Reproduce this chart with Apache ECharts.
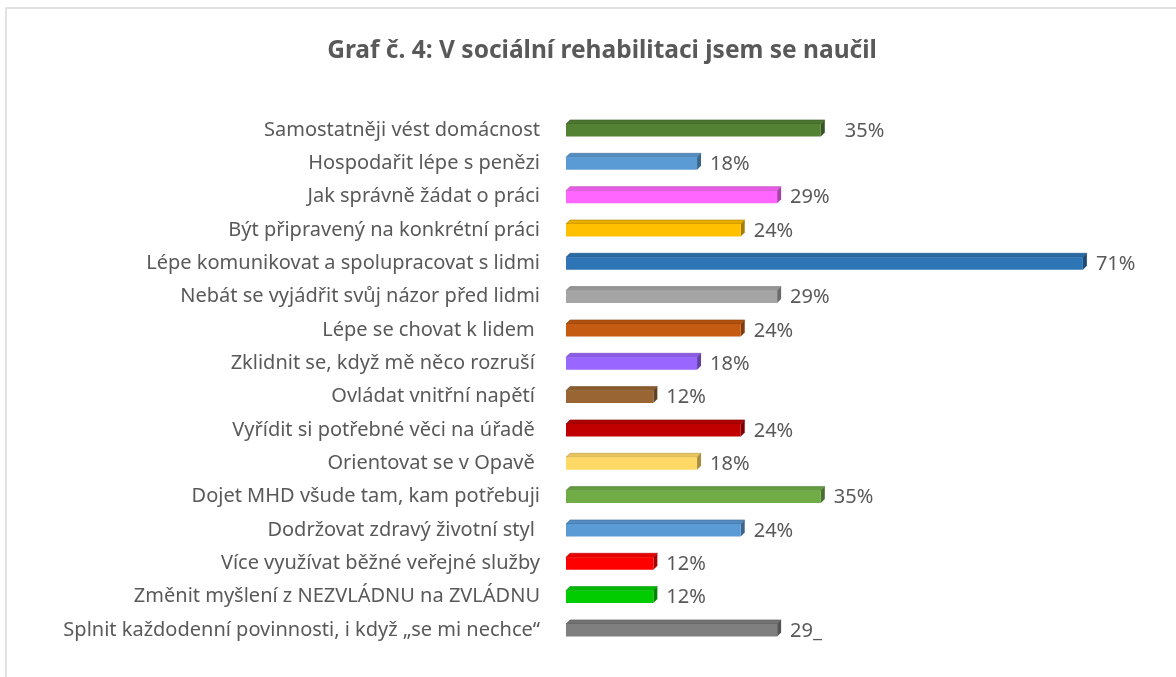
<!DOCTYPE html>
<html style="height: 100%">
<head>
    <meta charset="utf-8">
    <script src="https://cdn.jsdelivr.net/npm/echarts@6/dist/echarts.min.js"></script>
</head>
<body style="height: 100%; margin: 0; background: #fff;">
<div id="container" style="width: 1176px; height: 677px;"></div>
<script type="text/javascript">
    // data
    var categories = [
        'Samostatněji vést domácnost',
        'Hospodařit lépe s penězi',
        'Jak správně žádat o práci',
        'Být připravený na konkrétní práci',
        'Lépe komunikovat a spolupracovat s lidmi',
        'Nebát se vyjádřit svůj názor před lidmi',
        'Lépe se chovat k lidem ',
        'Zklidnit se, když mě něco rozruší ',
        'Ovládat vnitřní napětí ',
        'Vyřídit si potřebné věci na úřadě ',
        'Orientovat se v Opavě ',
        'Dojet MHD všude tam, kam potřebuji',
        'Dodržovat zdravý životní styl ',
        'Více využívat běžné veřejné služby',
        'Změnit myšlení z NEZVLÁDNU na ZVLÁDNU',
        'Splnit každodenní povinnosti, i když „se mi nechce“'
    ];
    var values = [35, 18, 29, 24, 71, 29, 24, 18, 12, 24, 18, 35, 24, 12, 12, 29];
    var valueLabels = ['35%', '18%', '29%', '24%', '71%', '29%', '24%', '18%', '12%', '24%', '18%', '35%', '24%', '12%', '12%', '29_'];
    var colors = ['#548235', '#5b9bd5', '#ff66ff', '#ffc000', '#2e75b6', '#a5a5a5', '#c55a11', '#9966ff',
                  '#996633', '#c00000', '#ffd966', '#70ad47', '#5b9bd5', '#ff0000', '#00cc00', '#7f7f7f'];

    // ztmavit barvu (k = 0..1)
    function shade(hex, k) {
        var n = parseInt(hex.slice(1), 16);
        var r = Math.round(((n >> 16) & 255) * (1 - k));
        var g = Math.round(((n >> 8) & 255) * (1 - k));
        var b = Math.round((n & 255) * (1 - k));
        return 'rgb(' + r + ',' + g + ',' + b + ')';
    }

    var chart = echarts.init(document.getElementById('container'));

    function renderBar(params, api) {
        var i = api.value(0);
        var v = api.value(1);
        var p0 = api.coord([0, i]);
        var p1 = api.coord([v, i]);
        var x0 = p0[0], x1 = p1[0], c = p0[1];
        var d = 4;
        var top = c - 6, bot = c + 6.5;
        var col = colors[params.dataIndex];
        var gap = params.dataIndex === 0 ? 20 : 9;
        return {
            type: 'group',
            children: [
                {
                    type: 'polygon',
                    shape: {points: [[x0, top], [x1, top], [x1 + d, top - d], [x0 + d, top - d]]},
                    style: {fill: shade(col, 0.1), stroke: shade(col, 0.3), lineWidth: 0.6}
                },
                {
                    type: 'polygon',
                    shape: {points: [[x1, top], [x1 + d, top - d], [x1 + d, bot - d], [x1, bot]]},
                    style: {fill: shade(col, 0.35)}
                },
                {
                    type: 'rect',
                    shape: {x: x0, y: top, width: x1 - x0, height: bot - top},
                    style: {fill: col}
                },
                {
                    type: 'text',
                    style: {
                        x: x1 + d + gap, y: c + 1,
                        text: valueLabels[params.dataIndex],
                        fill: '#595959',
                        font: '20px "Noto Sans"',
                        verticalAlign: 'middle'
                    }
                }
            ]
        };
    }

    var option = {
        animation: false,
        title: {
            text: 'Graf č. 4: V sociální rehabilitaci jsem se naučil',
            left: 597,
            textAlign: 'center',
            top: 34,
            textStyle: {
                fontFamily: 'Noto Sans',
                fontSize: 24.5,
                fontWeight: 'bold',
                color: '#595959'
            }
        },
        graphic: [{
            type: 'rect',
            shape: {x: 6, y: 8, width: 1200, height: 700},
            style: {fill: 'none', stroke: '#d9d9d9', lineWidth: 1.5}
        }],
        grid: {left: 566, top: 113.3, width: 582.4, height: 533.3},
        xAxis: {
            type: 'value', min: 0, max: 80,
            show: false
        },
        yAxis: {
            type: 'category',
            data: categories,
            inverse: true,
            axisLine: {show: false},
            axisTick: {show: false},
            axisLabel: {
                margin: 26,
                fontFamily: 'Noto Sans',
                fontSize: 20,
                color: '#595959'
            }
        },
        series: [{
            type: 'custom',
            renderItem: renderBar,
            encode: {x: 1, y: 0},
            data: values.map(function (v, i) { return [i, v]; })
        }]
    };
    chart.setOption(option);
</script>
</body>
</html>
